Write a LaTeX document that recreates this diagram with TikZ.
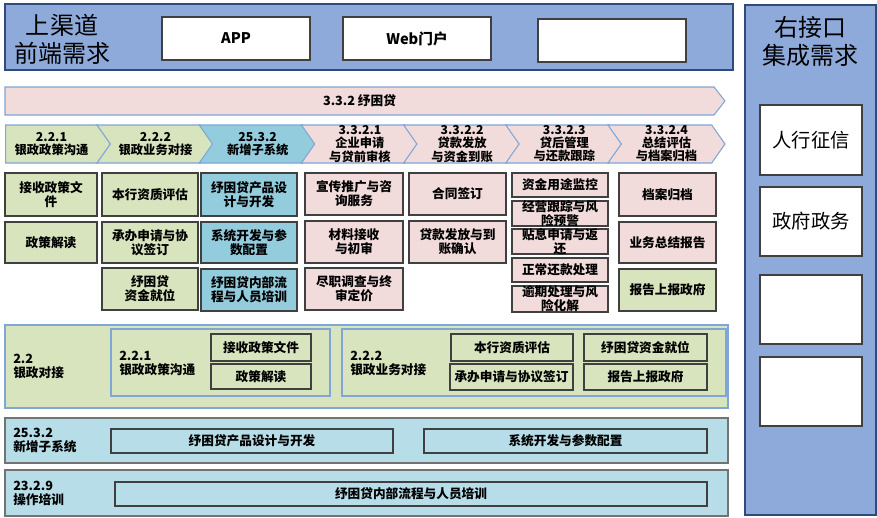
\documentclass[tikz,border=0pt]{standalone}
\usepackage{fontspec}
\setmainfont{Noto Sans CJK SC}
\usetikzlibrary{positioning,shapes.symbols}
\definecolor{chan}{HTML}{8EAADB}
\definecolor{chanline}{HTML}{2F4B7C}
\definecolor{gov}{HTML}{D7E4BD}
\definecolor{sys}{HTML}{93CDDD}
\definecolor{sysbg}{HTML}{B7DEE8}
\definecolor{loan}{HTML}{F2DCDB}
\definecolor{edge}{HTML}{7FA6D6}

\begin{document}
\begin{tikzpicture}[x=0.75pt,y=-0.75pt,
  txt/.style={font=\bfseries\fontsize{9.5}{10.5}\selectfont,align=center},
  area/.style args={#1/#2/#3/#4}{at={({(#1+#3)/2},{(#2+#4)/2})},
    minimum width={(#3-#1)*0.75pt},minimum height={(#4-#2)*0.75pt}},
  cell/.style={draw=black!75,line width=0.9pt,fill=#1,inner sep=0pt,txt},
  panel/.style={draw=#1,line width=1pt,inner sep=0pt},
  chev/.style={shape=signal,signal to=east,signal from=west,signal pointer angle=110,
    draw=edge,line width=0.8pt,fill=#1,inner sep=0pt,
    minimum width=87.75pt,minimum height=28.5pt,txt,font=\bfseries\fontsize{9.2}{9.8}\selectfont},
  big/.style={font=\fontsize{18}{21}\selectfont,align=center},
  tag/.style={txt,anchor=west,align=left,inner sep=0pt}]
  \useasboundingbox (0,0) rectangle (877,517);

  % front-end channels
  \node[panel=chanline,fill=chan,area=5/4/733/70] (front) {};
  \node[big] (fronttitle) at (62,39) {上渠道\\前端需求};
  \node[cell=white,area=162/17/310/60,font=\bfseries\fontsize{11}{13}\selectfont] (app) {APP};
  \node[cell=white,area=343/17/491/60,font=\bfseries\fontsize{11}{13}\selectfont] (web) {Web门户};
  \node[cell=white,area=538/19/686/62] (spare) {};

  % right-hand integrations
  \node[panel=chanline,fill=chan,area=745/5/876/515] (right) {};
  \node[big] (righttitle) at (810,41) {右接口\\集成需求};
  \node[cell=white,area=760/105/862/175,font=\fontsize{14.5}{16}\selectfont] (credit) {人行征信};
  \node[cell=white,area=760/187/862/256,font=\fontsize{14.5}{16}\selectfont] (gova) {政府政务};
  \node[cell=white,area=760/275/862/344] (if3) {};
  \node[cell=white,area=760/357/862/426] (if4) {};

  % process
  \node[chev=loan,signal from=nowhere,signal pointer angle=104,
    minimum width=540pt,minimum height=21pt,txt] (loanbar) at (359.5,101) {3.3.2 纾困贷};
  \node[chev=gov,signal from=nowhere,minimum width=78.75pt] (ch1) at (51.5,144) {2.2.1\\银政政策沟通};
  \foreach \i/\c/\t in {2/gov/{2.2.2\\银政业务对接},3/sys/{25.3.2\\新增子系统},
      4/loan/{3.3.2.1\\企业申请\\与贷前审核},5/loan/{3.3.2.2\\贷款发放\\与资金到账},
      6/loan/{3.3.2.3\\贷后管理\\与还款跟踪},7/loan/{3.3.2.4\\总结评估\\与档案归档}}
    \node[chev=\c] (ch\i) at ({97+102.2*(\i-2)+58.5},144) {\t};

  % tasks
  \node[cell=gov,area=5/173/97/216] (t11) {接收政策文\\件};
  \node[cell=gov,area=5/222/97/263] (t12) {政策解读};
  \node[cell=gov,area=102/173/198/216] (t21) {本行资质评估};
  \node[cell=gov,area=102/222/198/263] (t22) {承办申请与协\\议签订};
  \node[cell=gov,area=102/268/198/310] (t23) {纾困贷\\资金就位};
  \node[cell=sys,area=201/173/297/216] (t31) {纾困贷产品设\\计与开发};
  \node[cell=sys,area=201/222/297/263] (t32) {系统开发与参\\数配置};
  \node[cell=sys,area=201/269/297/311] (t33) {纾困贷内部流\\程与人员培训};
  \node[cell=loan,area=305/173/403/215] (t41) {宣传推广与咨\\询服务};
  \node[cell=loan,area=305/221/403/263] (t42) {材料接收\\与初审};
  \node[cell=loan,area=305/268/403/310] (t43) {尽职调查与终\\审定价};
  \node[cell=loan,area=409/173/506/215] (t51) {合同签订};
  \node[cell=loan,area=409/221/506/263] (t52) {贷款发放与到\\账确认};
  \node[cell=loan,area=512/173/608/197] (t61) {资金用途监控};
  \node[cell=loan,area=512/201/608/226,label={[txt]center:{经营跟踪与风\\险预警}}] (t62) {};
  \node[cell=loan,area=512/229/608/254,label={[txt]center:{贴息申请与返\\还}}] (t63) {};
  \node[cell=loan,area=512/258/608/282] (t64) {正常还款处理};
  \node[cell=loan,area=512/286/608/312,label={[txt]center:{逾期处理与风\\险化解}}] (t65) {};
  \node[cell=loan,area=619/173/716/216] (t71) {档案归档};
  \node[cell=loan,area=619/222/716/263] (t72) {业务总结报告};
  \node[cell=gov,area=619/269/716/311] (t73) {报告上报政府};

  % 2.2
  \node[panel=edge,fill=gov,area=5/325/728/408] (bank) {};
  \node[tag] (banktag) at (13,366) {2.2\\银政对接};
  \node[panel=edge,fill=gov,area=111/329/330/396] (policy) {};
  \node[tag] (policytag) at (119,363) {2.2.1\\银政政策沟通};
  \node[cell=gov,area=211/334/311/361] (p1) {接收政策文件};
  \node[cell=gov,area=211/364/311/389] (p2) {政策解读};
  \node[panel=edge,fill=gov,area=342/329/726/396] (biz) {};
  \node[tag] (biztag) at (350,363) {2.2.2\\银政业务对接};
  \node[cell=gov,area=451/334/573/361] (b1) {本行资质评估};
  \node[cell=gov,area=450/364/573/390] (b2) {承办申请与协议签订};
  \node[cell=gov,area=584/334/707/361] (b3) {纾困贷资金就位};
  \node[cell=gov,area=584/364/707/390] (b4) {报告上报政府};

  % 25.3.2 and 23.2.9
  \node[panel=black!55,fill=sysbg,area=5/418/728/463] (newsys) {};
  \node[tag] (newsystag) at (13,440) {25.3.2\\新增子系统};
  \node[cell=sysbg,area=111/429/393/453] (s1) {纾困贷产品设计与开发};
  \node[cell=sysbg,area=424/429/707/453] (s2) {系统开发与参数配置};
  \node[panel=black!55,fill=sysbg,area=5/470/728/516] (train) {};
  \node[tag] (traintag) at (13,493) {23.2.9\\操作培训};
  \node[cell=sysbg,area=115/482/707/506] (tr1) {纾困贷内部流程与人员培训};
\end{tikzpicture}
\end{document}
